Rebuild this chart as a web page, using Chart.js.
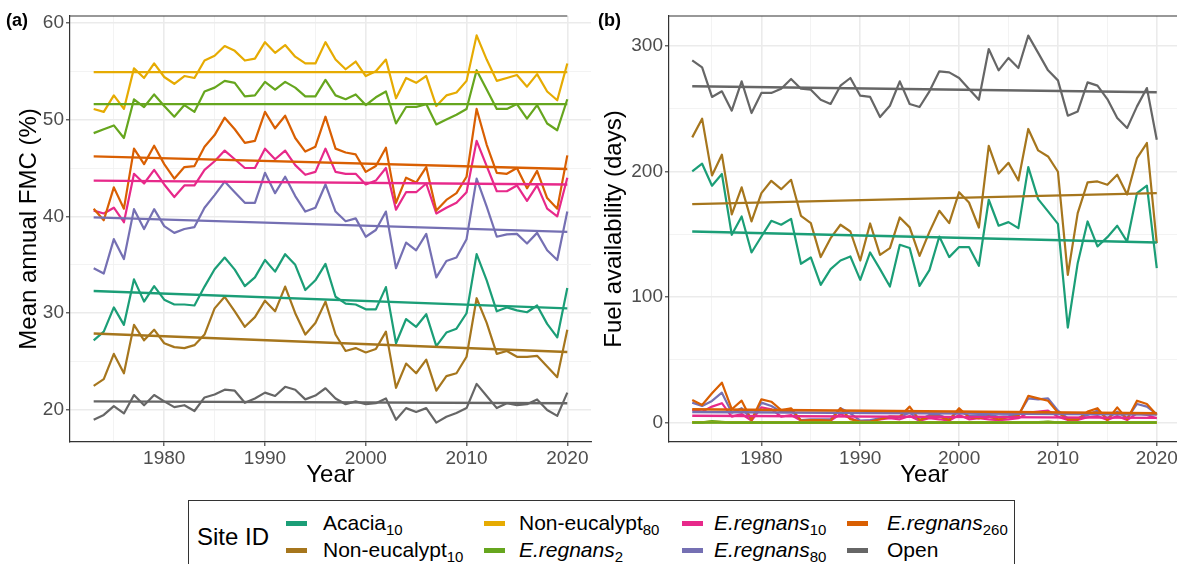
<!DOCTYPE html>
<html>
<head>
<meta charset="utf-8">
<title>FMC y disponibilidad de combustible</title>
<script src="https://cdn.jsdelivr.net/npm/chart.js@4.4.1/dist/chart.umd.min.js"></script>
<style>
    body {
        margin: 0;
        width: 1177px;
        height: 564px;
        overflow: hidden;
        position: relative;
        background: #ffffff;
        font-family: "Liberation Sans", Arial, sans-serif;
    }
    canvas { position: absolute; top: 0; }
    #chartA { left: 0; }
    #chartB { left: 596px; }
    .panelTag {
        position: absolute;
        top: 10px;
        font-size: 18px;
        font-weight: bold;
        color: #000;
    }
    #legend {
        position: absolute;
        left: 188px;
        top: 500px;
        width: 827px;
        height: 80px;
        border: 1px solid #333;
        box-sizing: border-box;
    }
    #legendTitle {
        position: absolute;
        left: 8px;
        top: 22px;
        font-size: 24px;
        line-height: 28px;
    }
    .legKey {
        position: absolute;
        width: 21px;
        height: 5px;
    }
    .legText {
        position: absolute;
        font-size: 21px;
        line-height: 24px;
        white-space: nowrap;
    }
    .legText .sub {
        font-size: 15px;
        position: relative;
        top: 5px;
        font-style: normal;
    }
</style>
</head>
<body>
<canvas id="chartA" width="596" height="492"></canvas>
<canvas id="chartB" width="590" height="492"></canvas>
<div class="panelTag" style="left:6px">(a)</div>
<div class="panelTag" style="left:598px">(b)</div>
<div id="legend"><div id="legendTitle">Site ID</div></div>

<script>
// Datos
const YEARS = [
    1973, 1974, 1975, 1976, 1977, 1978, 1979, 1980, 1981, 1982,
    1983, 1984, 1985, 1986, 1987, 1988, 1989, 1990, 1991, 1992,
    1993, 1994, 1995, 1996, 1997, 1998, 1999, 2000, 2001, 2002,
    2003, 2004, 2005, 2006, 2007, 2008, 2009, 2010, 2011, 2012,
    2013, 2014, 2015, 2016, 2017, 2018, 2019, 2020
];

const SITE_NAMES = ['Acacia', 'Non-eucalypt', 'Non-eucalypt', 'E.regnans', 'E.regnans', 'E.regnans', 'E.regnans', 'Open'];
const SITE_SUBS = ['10', '10', '80', '2', '10', '80', '260', ''];
const SITE_ITALIC = [false, false, false, true, true, true, true, false];
const SITE_COLORS = ['#1B9E77', '#A6761D', '#E6AB02', '#66A61E', '#E7298A', '#7570B3', '#D95F02', '#666666'];

// (a) Mean annual FMC (%)
const fmcAcacia10 = [
    27.2, 28.1, 30.6, 28.8, 33.5, 31.2, 32.8, 31.4, 30.9, 30.9,
    30.8, 32.75, 34.55, 35.75, 34.5, 32.8, 33.7, 35.5, 34.3, 36.1,
    35.0, 32.4, 33.4, 35.1, 31.7, 31.0, 30.9, 30.4, 30.4, 32.7,
    26.9, 29.4, 28.6, 29.9, 26.6, 28.0, 28.4, 30.0, 36.1, 33.4,
    30.2, 30.6, 30.3, 30.1, 30.8, 28.9, 27.5, 32.6
];
const fmcNonEuc10 = [
    22.5, 23.2, 25.8, 23.8, 28.8, 27.2, 28.3, 26.9, 26.5, 26.4,
    26.7, 27.8, 30.5, 31.7, 30.2, 28.6, 29.6, 31.3, 30.2, 32.75,
    30.0, 27.8, 29.0, 31.2, 27.8, 26.1, 26.4, 25.95, 26.3, 28.1,
    22.3, 24.8, 23.8, 25.2, 22.0, 23.5, 23.8, 25.5, 31.55, 29.0,
    25.8, 26.1, 25.5, 25.5, 25.6, 24.5, 23.4, 28.3
];
const fmcNonEuc80 = [
    51.1, 50.8, 52.5, 51.1, 55.3, 54.3, 55.8, 54.4, 53.7, 54.5,
    54.3, 56.1, 56.6, 57.6, 57.1, 56.1, 56.3, 58.0, 56.9, 57.7,
    56.5, 55.8, 55.8, 58.0, 56.2, 55.2, 56.0, 54.5, 55.0, 56.2,
    52.2, 54.3, 53.8, 54.5, 51.4, 52.5, 52.8, 54.0, 58.7, 56.2,
    54.0, 54.3, 54.6, 53.4, 54.7, 52.9, 52.0, 55.8
];
const fmcRegnans2 = [
    48.6, 49.0, 49.4, 48.1, 52.1, 51.3, 52.6, 51.4, 50.3, 51.5,
    50.8, 52.9, 53.3, 54.0, 53.8, 52.4, 52.5, 53.9, 53.1, 53.9,
    53.3, 52.4, 52.4, 54.1, 52.5, 52.1, 52.6, 51.5, 52.3, 52.9,
    49.6, 51.3, 51.3, 51.6, 49.5, 50.0, 50.5, 51.1, 55.1, 53.1,
    51.1, 51.1, 51.6, 50.1, 51.5, 49.6, 48.9, 52.1
];
const fmcRegnans10 = [
    40.6, 40.3, 40.9, 39.4, 44.4, 43.4, 44.8, 43.3, 42.0, 43.2,
    43.2, 44.8, 45.7, 46.8, 45.9, 45.0, 45.0, 47.0, 45.9, 46.8,
    45.3, 44.3, 44.6, 47.0, 44.6, 44.4, 44.4, 43.3, 43.7, 45.0,
    40.7, 42.5, 42.5, 43.4, 40.3, 40.9, 41.4, 42.5, 47.8, 45.2,
    42.6, 42.6, 43.2, 41.6, 43.2, 40.8, 40.0, 44.0
];
const fmcRegnans80 = [
    34.65, 34.1, 37.65, 35.6, 40.75, 38.7, 40.75, 39.0, 38.3, 38.7,
    38.9, 40.9, 42.2, 43.6, 42.5, 41.4, 41.4, 44.5, 42.4, 44.1,
    42.1, 40.5, 40.9, 43.3, 40.5, 39.5, 39.8, 37.9, 38.6, 40.5,
    34.65, 37.3, 36.5, 38.2, 33.7, 35.4, 35.75, 37.65, 43.9, 41.0,
    37.9, 38.15, 38.2, 37.2, 38.3, 36.5, 35.5, 40.5
];
const fmcRegnans260 = [
    40.8, 39.6, 43.0, 40.8, 47.0, 45.4, 47.3, 45.4, 43.9, 45.1,
    45.2, 47.2, 48.4, 50.2, 49.0, 47.6, 47.8, 50.8, 49.1, 50.4,
    48.1, 46.7, 47.2, 50.3, 47.0, 46.6, 46.4, 44.6, 45.2, 47.1,
    41.4, 44.0, 43.5, 45.1, 40.6, 41.7, 42.4, 44.1, 51.1, 47.4,
    44.5, 44.4, 45.0, 42.9, 44.7, 41.9, 40.8, 46.3
];
const fmcOpen = [
    19.0, 19.5, 20.4, 19.65, 21.55, 20.5, 21.55, 20.9, 20.3, 20.5,
    19.9, 21.3, 21.6, 22.1, 22.0, 20.75, 21.2, 21.8, 21.45, 22.4,
    22.1, 21.1, 21.5, 22.25, 21.2, 20.6, 20.9, 20.6, 20.7, 21.2,
    19.0, 20.2, 19.8, 20.2, 18.7, 19.3, 19.7, 20.2, 22.7, 21.45,
    20.2, 20.7, 20.5, 20.6, 21.1, 20.0, 19.4, 21.8
];
// Tendencias lineales (valor en 1973 y en 2020)
const fmcTrendStart = [32.3, 27.9, 54.9, 51.6, 43.7, 39.9, 46.2, 20.9];
const fmcTrendEnd = [30.5, 26.0, 54.9, 51.6, 43.3, 38.4, 44.9, 20.7];
const fmcTicks = [20, 30, 40, 50, 60];
const fmcMinorTicks = [25, 35, 45, 55];

// (b) Fuel availability (days)
const availAcacia10 = [
    200.2, 206.3, 188.8, 198.1, 149.7, 164.3, 135.6, 148.3, 160.8, 157.7,
    162.4, 126.6, 131.6, 109.8, 122.3, 129.2, 132.4, 113.8, 135.6, 122.3,
    108.5, 141.7, 139.1, 109.0, 121.5, 148.3, 131.9, 139.9, 139.9, 125.0,
    177.6, 156.9, 159.8, 155.0, 203.6, 178.1, 168.3, 158.4, 75.8, 127.1,
    160.3, 140.4, 147.8, 156.9, 144.3, 182.9, 188.8, 123.1
];
const availNonEuc10 = [
    227.3, 242.2, 197.0, 213.5, 166.0, 187.5, 160.3, 182.9, 192.7, 186.0,
    193.5, 164.8, 159.0, 131.9, 147.0, 157.7, 152.3, 129.2, 158.7, 133.7,
    139.1, 163.5, 155.6, 132.9, 152.0, 168.8, 159.0, 183.6, 175.4, 155.5,
    220.6, 198.5, 207.0, 193.0, 234.0, 216.9, 212.1, 199.9, 117.8, 167.0,
    191.4, 192.2, 189.5, 197.5, 181.8, 210.8, 222.8, 143.0
];
const availNonEuc80 = [
    0.3, 0.2, 0.8, 0.5, 0, 0, 0, 0, 0, 0,
    0, 0, 0, 0, 0, 0, 0, 0, 0, 0,
    0, 0, 0, 0, 0, 0, 0, 0, 0, 0,
    0, 0, 0, 0, 0.4, 0.3, 0.6, 0.2, 0, 0,
    0, 0, 0, 0, 0, 0, 0, 0
];
const availRegnans2 = [
    0, 0.2, 1.2, 0.6, 0, 0, 0, 0, 0, 0,
    0, 0, 0, 0, 0, 0, 0, 0, 0, 0,
    0, 0, 0, 0, 0, 0, 0, 0, 0, 0,
    0, 0, 0, 0, 0.3, 0.5, 0.8, 0.3, 0, 0,
    0, 0, 0, 0, 0, 0, 0, 0
];
const availRegnans10 = [
    10.1, 8.8, 12.8, 15.5, 4.8, 6.9, 1.6, 12.2, 10.7, 4.8,
    6.1, 1.6, 1.6, 1.6, 1.6, 6.9, 3.5, 0.8, 1.6, 2.7,
    3.5, 2.7, 5.3, 1.6, 3.5, 2.7, 1.6, 6.1, 2.7, 3.5,
    2.7, 2.1, 2.7, 3.5, 8.0, 8.8, 9.6, 4.8, 2.1, 2.1,
    4.3, 5.3, 2.1, 5.3, 2.1, 7.5, 6.1, 3.5
];
const availRegnans80 = [
    16.0, 13.3, 17.3, 23.9, 8.0, 11.5, 2.7, 16.0, 13.3, 8.8,
    9.6, 2.1, 2.7, 2.7, 2.7, 11.5, 7.5, 1.6, 2.1, 3.5,
    4.8, 4.3, 8.0, 2.1, 6.1, 6.1, 2.7, 9.6, 5.3, 6.1,
    6.1, 4.8, 5.3, 6.1, 19.4, 18.6, 19.4, 9.6, 3.5, 3.5,
    6.1, 9.6, 3.5, 8.8, 3.5, 14.9, 12.8, 6.9
];
const availRegnans260 = [
    18.1, 14.1, 23.4, 31.9, 10.7, 17.5, 2.1, 18.6, 16.7, 10.1,
    11.5, 1.6, 2.1, 2.1, 1.6, 11.5, 2.7, 0.8, 0.8, 2.7,
    4.8, 4.8, 12.8, 2.1, 4.8, 4.8, 2.1, 11.5, 4.3, 3.5,
    4.8, 2.7, 4.3, 5.3, 21.3, 19.4, 17.5, 8.0, 2.7, 2.7,
    8.8, 11.5, 2.1, 12.2, 2.7, 17.5, 14.9, 6.1
];
const availOpen = [
    288.7, 283.1, 259.5, 264.0, 248.6, 271.9, 246.7, 262.7, 262.7, 266.1,
    273.8, 266.1, 265.3, 257.3, 253.9, 268.5, 274.6, 260.5, 259.5, 243.5,
    252.5, 271.9, 253.9, 251.5, 264.0, 279.9, 279.1, 274.6, 265.8, 257.3,
    297.7, 280.7, 290.6, 282.6, 308.4, 294.6, 280.7, 272.7, 244.6, 248.0,
    271.1, 268.5, 257.8, 242.7, 234.7, 252.0, 266.6, 225.4
];
const availTrendStart = [152.3, 174.1, 0.3, 0.1, 5.5, 8.5, 10.7, 268.0];
const availTrendEnd = [143.5, 182.9, 0.1, 0.1, 3.8, 6.5, 7.5, 263.2];
const availTicks = [0, 100, 200, 300];
const availMinorTicks = [50, 150, 250];

const yearTicks = [1980, 1990, 2000, 2010, 2020];
const yearMinorTicks = [1975, 1985, 1995, 2005, 2015];

// Configuración general
Chart.defaults.font.family = '"Liberation Sans", Arial, sans-serif';
Chart.defaults.animation = false;

// Rejilla estilo theme_bw
const gridFor = (minor) => ({
    color: ctx => (ctx.tick && minor.includes(ctx.tick.value)) ? '#F2F2F2' : '#EBEBEB',
    lineWidth: ctx => (ctx.tick && minor.includes(ctx.tick.value)) ? 0.9 : 1.6,
    tickColor: ctx => (ctx.tick && minor.includes(ctx.tick.value)) ? 'rgba(0,0,0,0)' : '#333333',
    tickLength: 4,
    tickWidth: 1.1
});

// Borde superior del panel
const frameTop = {
    id: 'frameTop',
    afterDraw(chart, args, opts) {
        const { ctx, chartArea } = chart;
        const right = opts.stopAt ? chart.scales.x.getPixelForValue(opts.stopAt) : chartArea.right;
        ctx.save();
        ctx.strokeStyle = '#333333';
        ctx.lineWidth = 1.2;
        ctx.beginPath();
        ctx.moveTo(chartArea.left, chartArea.top);
        ctx.lineTo(right, chartArea.top);
        ctx.stroke();
        ctx.restore();
    }
};

function buildPanel(canvasId, series, trendStart, trendEnd, cfg) {
    const datasets = [];

    series.forEach((vals, k) => {
        datasets.push({
            data: YEARS.map((yr, i) => ({ x: yr, y: vals[i] })),
            borderColor: SITE_COLORS[k],
            borderWidth: 2.2,
            order: 20 - k
        });
    });

    // Líneas de tendencia encima de las series
    series.forEach((vals, k) => {
        datasets.push({
            data: [
                { x: YEARS[0], y: trendStart[k] },
                { x: YEARS[YEARS.length - 1], y: trendEnd[k] }
            ],
            borderColor: SITE_COLORS[k],
            borderWidth: 2.4,
            order: 10 - k
        });
    });

    return new Chart(document.querySelector(canvasId), {
        type: 'line',
        data: { datasets },
        plugins: [frameTop],
        options: {
            responsive: false,
            layout: { padding: { top: 16, right: cfg.padRight, left: 0, bottom: 0 } },
            elements: {
                point: { radius: 0 },
                line: { tension: 0, fill: false, borderJoinStyle: 'round' }
            },
            plugins: {
                legend: { display: false },
                tooltip: { enabled: false },
                frameTop: { stopAt: cfg.topStop }
            },
            scales: {
                x: {
                    type: 'linear',
                    min: 1970.65,
                    max: 2022.35,
                    afterBuildTicks: s => {
                        s.ticks = [...yearMinorTicks, ...yearTicks].sort((a, b) => a - b).map(v => ({ value: v }));
                    },
                    afterFit: s => { s.height = 50; },
                    ticks: {
                        autoSkip: false,
                        maxRotation: 0,
                        padding: 1,
                        color: '#4D4D4D',
                        font: { size: 19 },
                        callback: v => yearTicks.includes(v) ? String(v) : ''
                    },
                    grid: gridFor(yearMinorTicks),
                    border: { color: '#333333', width: 1.2 },
                    title: {
                        display: true,
                        text: 'Year',
                        color: '#000000',
                        font: { size: 24 },
                        padding: { top: 0, bottom: 2 }
                    }
                },
                y: {
                    type: 'linear',
                    min: cfg.yMin,
                    max: cfg.yMax,
                    afterBuildTicks: s => {
                        s.ticks = [...cfg.minor, ...cfg.major].sort((a, b) => a - b).map(v => ({ value: v }));
                    },
                    afterFit: s => { s.width = cfg.axisWidth; },
                    ticks: {
                        autoSkip: false,
                        padding: 2,
                        color: '#4D4D4D',
                        font: { size: 19 },
                        callback: v => cfg.major.includes(v) ? String(v) : ''
                    },
                    grid: gridFor(cfg.minor),
                    border: { color: '#333333', width: 1.2 },
                    title: {
                        display: true,
                        text: cfg.title,
                        color: '#000000',
                        font: { size: 24 },
                        padding: { top: cfg.titlePad, bottom: 0 }
                    }
                }
            }
        }
    });
}

buildPanel('#chartA',
    [fmcAcacia10, fmcNonEuc10, fmcNonEuc80, fmcRegnans2, fmcRegnans10, fmcRegnans80, fmcRegnans260, fmcOpen],
    fmcTrendStart, fmcTrendEnd,
    { yMin: 16.7, yMax: 60.7, major: fmcTicks, minor: fmcMinorTicks, axisWidth: 70,
      title: 'Mean annual FMC (%)', titlePad: 15, padRight: 5, topStop: 2020 });

buildPanel('#chartB',
    [availAcacia10, availNonEuc10, availNonEuc80, availRegnans2, availRegnans10, availRegnans80, availRegnans260, availOpen],
    availTrendStart, availTrendEnd,
    { yMin: -15.4, yMax: 324, major: availTicks, minor: availMinorTicks, axisWidth: 73,
      title: 'Fuel availability (days)', titlePad: 4, padRight: 6, topStop: null });

// Leyenda (HTML para subíndices y cursiva)
const legend = document.querySelector('#legend');
const keyLefts = [97, 295, 493, 658];
const textLefts = [134, 330, 525, 698];
const rowCenters = [22, 49];

SITE_NAMES.forEach((name, k) => {
    const col = Math.floor(k / 2);
    const row = k % 2;

    const key = document.createElement('div');
    key.className = 'legKey';
    key.style.background = SITE_COLORS[k];
    key.style.left = keyLefts[col] + 'px';
    key.style.top = (rowCenters[row] - 2.5) + 'px';
    legend.appendChild(key);

    const label = document.createElement('div');
    label.className = 'legText';
    label.style.left = textLefts[col] + 'px';
    label.style.top = (rowCenters[row] - 12) + 'px';
    if (SITE_ITALIC[k]) label.style.fontStyle = 'italic';
    label.textContent = name;
    if (SITE_SUBS[k]) {
        const sub = document.createElement('span');
        sub.className = 'sub';
        sub.textContent = SITE_SUBS[k];
        label.appendChild(sub);
    }
    legend.appendChild(label);
});
</script>
</body>
</html>
